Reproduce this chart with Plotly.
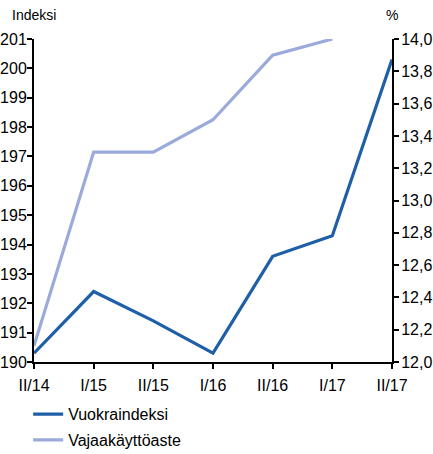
import plotly.graph_objects as go

categories = ["II/14", "I/15", "II/15", "I/16", "II/16", "I/17", "II/17"]
vuokraindeksi = [190.3, 192.4, 191.4, 190.3, 193.6, 194.3, 200.3]
vajaakayttoaste = [12.1, 13.3, 13.3, 13.5, 13.9, 14.0, None]

FONT = "Liberation Sans, Arial, sans-serif"
DARK = "#1f5fa8"
LIGHT = "#9aaadb"

fig = go.Figure()
fig.add_trace(go.Scatter(x=categories, y=vuokraindeksi, name="Vuokraindeksi",
                         mode="lines", line=dict(color=DARK, width=3.2), yaxis="y",
                         legendgroup="a"))
fig.add_trace(go.Scatter(x=categories, y=vajaakayttoaste, name="Vajaakäyttöaste",
                         mode="lines", line=dict(color=LIGHT, width=3.2), yaxis="y2",
                         legendgroup="b"))

axis_common = dict(showgrid=False, zeroline=False, showline=True, linecolor="black",
                   linewidth=2, ticks="outside", ticklen=5, tickwidth=1.5, tickcolor="black",
                   automargin=False,
                   tickfont=dict(family=FONT, size=16, color="black"))

fig.update_layout(
    width=433, height=454,
    margin=dict(l=34, r=41, t=39, b=92, autoexpand=False),
    plot_bgcolor="white", paper_bgcolor="white",
    separators=", ",
    font=dict(family=FONT, color="black"),
    xaxis=dict(type="category", range=[0, 6], ticklabelstandoff=3, **axis_common),
    yaxis=dict(range=[190, 201], dtick=1, ticklabelstandoff=-3, **axis_common),
    yaxis2=dict(range=[12, 14], dtick=0.2, tickformat=".1f", overlaying="y", side="right",
                ticklabelstandoff=-1, **axis_common),
    legend=dict(orientation="v", xref="container", yref="container",
                x=0.065, xanchor="left", y=0.125, yanchor="top",
                font=dict(family=FONT, size=16, color="black"), tracegroupgap=2,
                traceorder="grouped", itemwidth=30),
    showlegend=True,
)
fig.add_annotation(text="Indeksi", xref="paper", yref="paper", x=0.0, y=1.0, yshift=24,
                   xanchor="center", yanchor="middle", showarrow=False,
                   font=dict(family=FONT, size=14, color="black"))
fig.add_annotation(text="%", xref="paper", yref="paper", x=1.0, y=1.0, yshift=24,
                   xanchor="center", yanchor="middle", showarrow=False,
                   font=dict(family=FONT, size=14, color="black"))

fig.write_html("out.html", config={"displayModeBar": False},
               post_script="document.body.style.margin='0';document.body.style.padding='0';")
